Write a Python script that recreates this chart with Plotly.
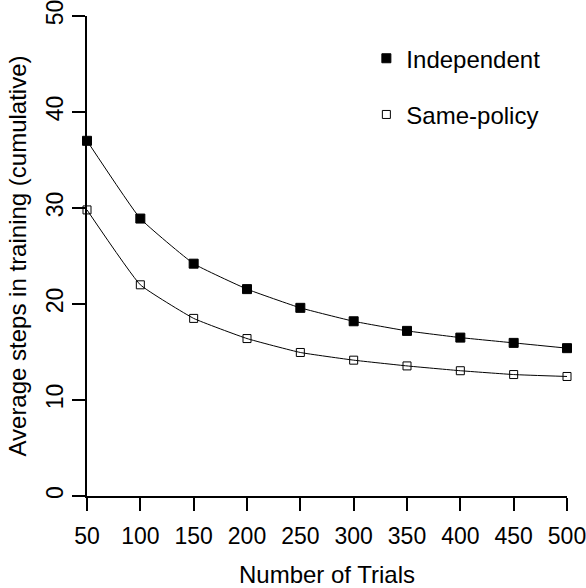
import plotly.graph_objects as go

trials = [50, 100, 150, 200, 250, 300, 350, 400, 450, 500]
independent = [37.0, 28.9, 24.2, 21.55, 19.6, 18.2, 17.2, 16.5, 15.95, 15.4]
same_policy = [29.8, 22.0, 18.5, 16.4, 14.95, 14.15, 13.55, 13.05, 12.65, 12.45]

x_ticks = [50, 100, 150, 200, 250, 300, 350, 400, 450, 500]
y_ticks = [0, 10, 20, 30, 40, 50]

FONT = "Liberation Sans, Arial, Helvetica, sans-serif"

series = [
    ("Independent", independent, "square", 9),
    ("Same-policy", same_policy, "square-open", 8),
]

fig = go.Figure()
for i, (name, vals, sym, size) in enumerate(series):
    fig.add_trace(go.Scatter(
        x=trials, y=vals, mode="lines", showlegend=False, hoverinfo="skip",
        line=dict(color="black", width=1, shape="spline", smoothing=0.35),
        cliponaxis=False,
    ))
for i, (name, vals, sym, size) in enumerate(series):
    fig.add_trace(go.Scatter(
        x=trials, y=vals, name=name, mode="markers", legendgroup=f"g{i}",
        marker=dict(symbol=sym, size=size, color="black", line=dict(color="black", width=1)),
        cliponaxis=False,
    ))

fig.update_layout(
    width=586, height=588,
    margin=dict(l=87, r=19, t=16, b=92),
    paper_bgcolor="white", plot_bgcolor="white",
    font=dict(family=FONT, size=24, color="black"),
    showlegend=True,
    legend=dict(
        x=0.582, y=0.958, xanchor="left", yanchor="top",
        bgcolor="rgba(0,0,0,0)", borderwidth=0,
        font=dict(size=24), tracegroupgap=22,
    ),
    xaxis=dict(
        range=[50, 500], tickvals=x_ticks, ticktext=[str(v) for v in x_ticks],
        showline=True, linecolor="black", linewidth=2,
        ticks="outside", ticklen=13, tickwidth=2, tickcolor="black",
        showgrid=False, zeroline=False, automargin=False,
        ticklabeloverflow="allow", ticklabelstandoff=5,
        tickfont=dict(size=23),
        title=dict(text="Number of Trials", font=dict(size=24), standoff=21),
    ),
    yaxis=dict(
        range=[0, 50], tickvals=y_ticks, ticktext=[str(v) for v in y_ticks],
        showline=True, linecolor="black", linewidth=2,
        ticks="outside", ticklen=13, tickwidth=2, tickcolor="black",
        showgrid=False, zeroline=False, tickangle=-90, automargin=False,
        ticklabeloverflow="allow",
        tickfont=dict(size=23),
        title=dict(text="Average steps in training (cumulative)", font=dict(size=24), standoff=8),
    ),
)

fig.write_html("out.html", config={"displayModeBar": False},
               post_script="document.body.style.margin='0px';")
